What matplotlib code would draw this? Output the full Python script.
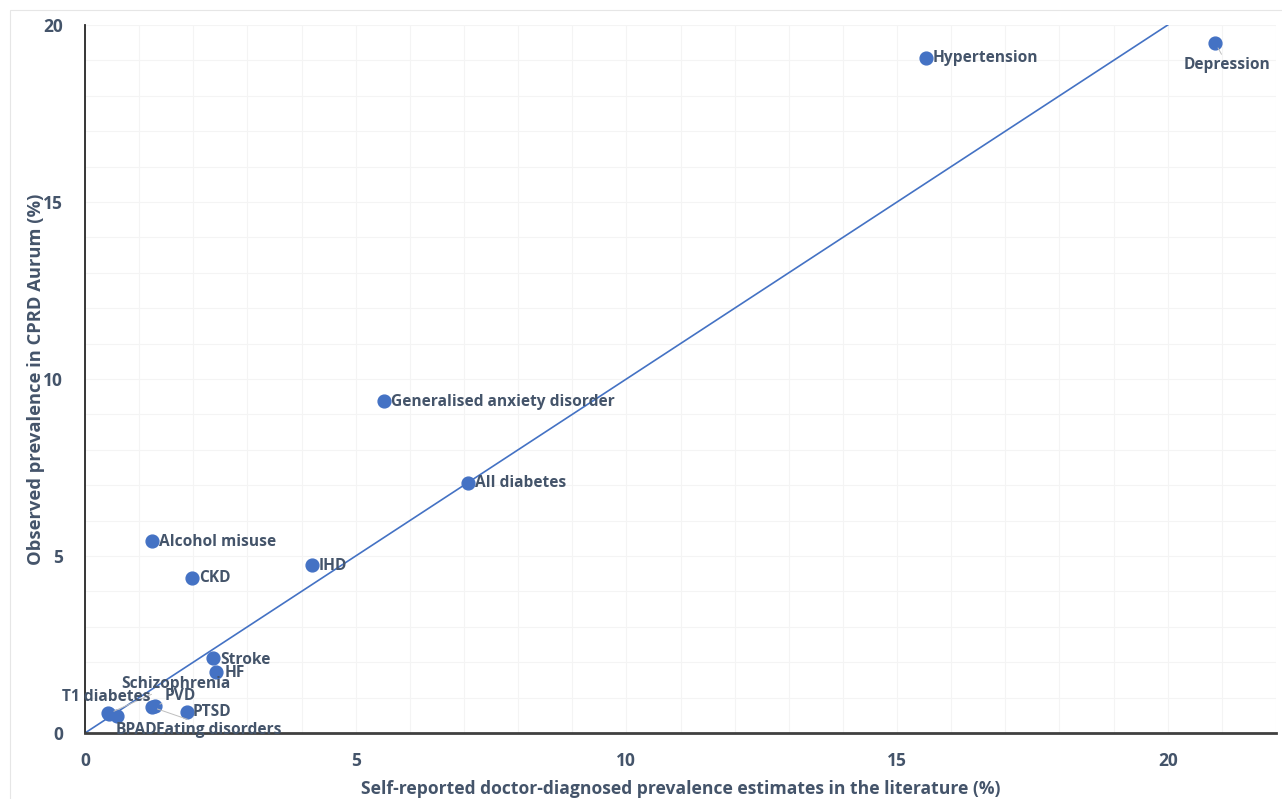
import matplotlib
matplotlib.use("Agg")
import matplotlib.pyplot as plt
from matplotlib.patches import Rectangle
from matplotlib.ticker import MultipleLocator

# data
conditions = [
    "Hypertension", "Depression", "Generalised anxiety disorder", "All diabetes",
    "Alcohol misuse", "CKD", "IHD", "Stroke", "HF", "Schizophrenia",
    "T1 diabetes", "PVD", "PTSD", "BPAD", "Eating disorders",
]
literature = [15.53, 20.88, 5.52, 7.07, 1.24, 1.98, 4.19, 2.36, 2.42, 0.44,
              0.42, 1.29, 1.88, 0.59, 1.24]
observed = [19.07, 19.49, 9.38, 7.06, 5.42, 4.38, 4.75, 2.12, 1.72, 0.55,
            0.56, 0.76, 0.59, 0.48, 0.73]
line_x = [0, 20]
line_y = [0, 20]

# label offsets in pixels (dx, dy, ha, leader)
offsets = {
    "Hypertension": (7, 0, "left", False),
    "Depression": (12, -22, "center", True),
    "Generalised anxiety disorder": (7, -1, "left", False),
    "All diabetes": (7, 0, "left", False),
    "Alcohol misuse": (7, -1, "left", False),
    "CKD": (7, 0, "left", False),
    "IHD": (7, -1, "left", False),
    "Stroke": (7, -2, "left", False),
    "HF": (9, -1, "left", False),
    "Schizophrenia": (12, 30, "left", True),
    "T1 diabetes": (-46, 16, "left", False),
    "PVD": (10, 10, "left", True),
    "PTSD": (6, 0, "left", False),
    "BPAD": (-1, -14, "left", False),
    "Eating disorders": (4, -23, "left", True),
}

blue = "#4472C4"
text_col = "#44546A"
plt.rcParams["font.family"] = ["Open Sans", "DejaVu Sans"]

fig = plt.figure(figsize=(12.82, 7.99), dpi=100)
fig.patches.append(Rectangle((10 / 1282, -0.01), 1.02, 1 - 10 / 799 + 0.01,
                             transform=fig.transFigure, fill=False,
                             edgecolor="#E6E6E6", linewidth=0.8))
ax = fig.add_axes([85 / 1282, 66 / 799, (1276 - 85) / 1282, (733 - 25) / 799])

ax.set_xlim(0, 22)
ax.set_ylim(0, 20)
ax.xaxis.set_major_locator(MultipleLocator(5))
ax.yaxis.set_major_locator(MultipleLocator(5))
ax.xaxis.set_minor_locator(MultipleLocator(1))
ax.yaxis.set_minor_locator(MultipleLocator(1))
ax.grid(True, which="both", color="#F4F4F4", linewidth=0.8)
ax.set_axisbelow(True)

for s in ["top", "right"]:
    ax.spines[s].set_visible(False)
ax.spines["left"].set_color("#262626")
ax.spines["left"].set_linewidth(1.3)
ax.spines["bottom"].set_color("#404040")
ax.spines["bottom"].set_linewidth(2)

ax.tick_params(which="both", length=0)
ax.tick_params(axis="x", pad=14)
ax.tick_params(axis="y", pad=16)
for lab in ax.get_xticklabels() + ax.get_yticklabels():
    lab.set_fontsize(12.5)
    lab.set_fontweight("bold")
    lab.set_color(text_col)

ax.plot(line_x, line_y, color=blue, linewidth=1.2, zorder=2)
ax.scatter(literature, observed, s=85, color=blue, zorder=3, clip_on=False)

for name, x, y in zip(conditions, literature, observed):
    dx, dy, ha, leader = offsets[name]
    ax.annotate(name, (x, y), xytext=(dx, dy), textcoords="offset pixels",
                ha=ha, va="center", fontsize=11.2, fontweight="bold",
                color=text_col, zorder=4,
                arrowprops=dict(arrowstyle="-", color="#BFBFBF", lw=0.7,
                                shrinkA=0, shrinkB=4) if leader else None)

ax.set_xlabel("Self-reported doctor-diagnosed prevalence estimates in the literature (%)",
              fontsize=12.6, fontweight="bold", color=text_col, labelpad=7)
ax.set_ylabel("Observed prevalence in CPRD Aurum (%)",
              fontsize=13.2, fontweight="bold", color=text_col)
ax.yaxis.set_label_coords(-(85 - 45) / 1191, 0.5)

fig.savefig("out.png", dpi=100)
